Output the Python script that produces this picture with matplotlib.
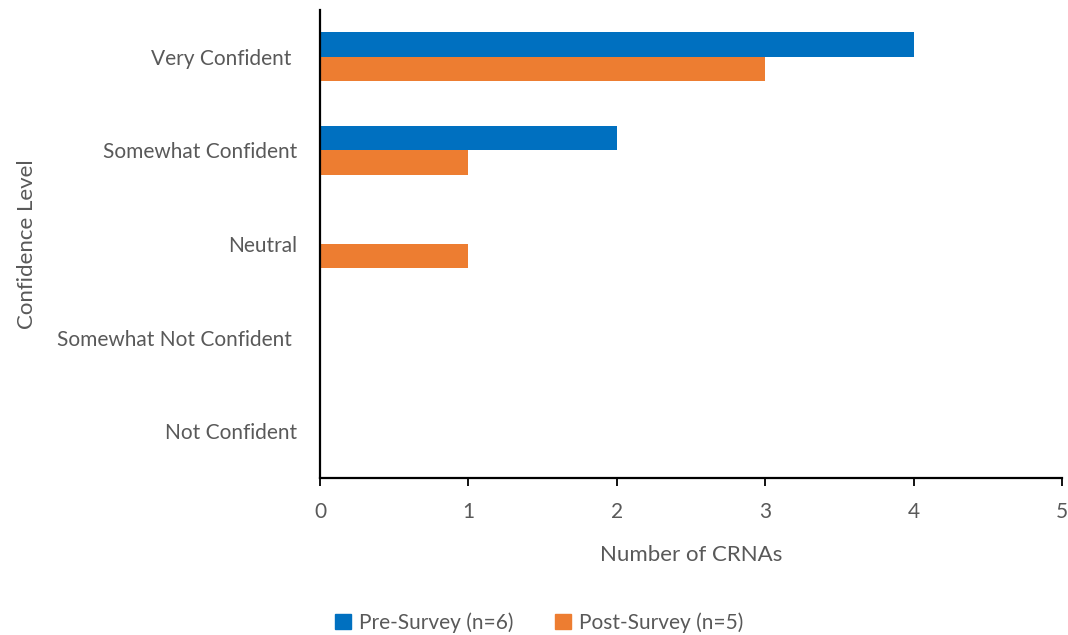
import numpy as np
import matplotlib.pyplot as plt
from matplotlib.patches import Patch

categories = ['Very Confident ', 'Somewhat Confident', 'Neutral',
              'Somewhat Not Confident ', 'Not Confident']
pre_survey = [4, 2, 0, 0, 0]
post_survey = [3, 1, 1, 0, 0]
series_names = ['Pre-Survey (n=6)', 'Post-Survey (n=5)']

blue = '#0070C0'
orange = '#ED7D31'
grey = '#595959'

plt.rcParams['font.family'] = ['Lato', 'DejaVu Sans']

fig = plt.figure(figsize=(10.68, 6.35), dpi=100)
ax = fig.add_axes([0.2996, 0.2472, 0.6948, 0.7371])

y = np.arange(len(categories))
h = 0.26
ax.barh(y - h / 2, pre_survey, height=h, color=blue)
ax.barh(y + h / 2, post_survey, height=h, color=orange)

ax.set_ylim(len(categories) - 0.5, -0.5)
ax.set_xlim(0, 5)
ax.set_yticks(y)
ax.set_yticklabels(categories, fontsize=15, color=grey)
ax.set_xticks(range(6))
ax.tick_params(axis='x', labelsize=15, labelcolor=grey, length=6,
               width=1.3, color='black', pad=11)
ax.tick_params(axis='y', length=0, pad=16.5)

for side in ['top', 'right']:
    ax.spines[side].set_visible(False)
for side in ['left', 'bottom']:
    ax.spines[side].set_linewidth(1.6)
    ax.spines[side].set_color('black')

ax.set_xlabel('Number of CRNAs', fontsize=16, color=grey, labelpad=17)
ax.set_ylabel('Confidence Level', fontsize=16, color=grey, labelpad=14)

handles = [Patch(color=blue), Patch(color=orange)]
fig.legend(handles, series_names, loc='center', bbox_to_anchor=(0.505, 0.02),
           ncol=2, frameon=False, fontsize=15, labelcolor=grey,
           handlelength=0.75, handleheight=0.75, handletextpad=0.4,
           columnspacing=2.0)

fig.savefig('out.png', dpi=100)
